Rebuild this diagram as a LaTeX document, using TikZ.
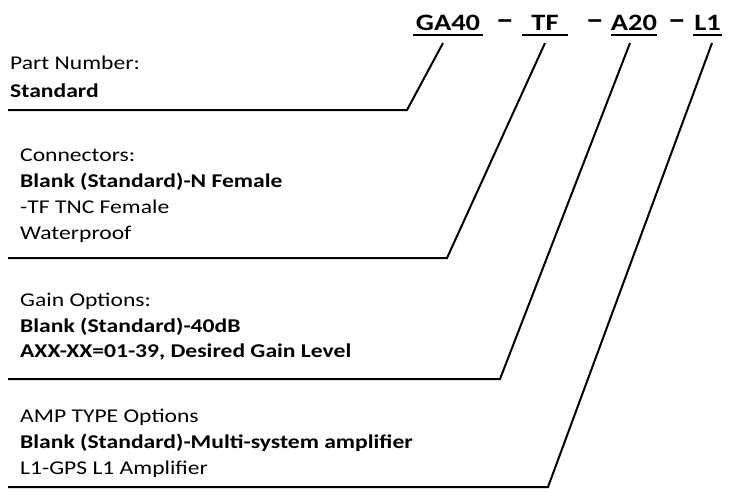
\documentclass[tikz,border=0pt]{standalone}
\usepackage{fontspec}
\setmainfont{Carlito}[FakeStretch=1.21]

\begin{document}
\begin{tikzpicture}[x=1pt,y=-1pt,
  txt/.style={anchor=base west,inner sep=0pt,font=\fontsize{19.5}{22}\selectfont},
  txtb/.style={txt,font=\fontsize{19.5}{22}\selectfont\bfseries},
  code/.style={anchor=base,inner sep=0pt,font=\fontsize{23.5}{26}\selectfont\bfseries},
  codesep/.style={code,font=\fontsize{30}{30}\selectfont\bfseries},
  uline/.style={draw=black,line width=1.8pt},
  lead/.style={draw=black,line width=2pt}]
\useasboundingbox (0,0) rectangle (730,491);
% part number code
\node[code,minimum width=70pt] (ga) at (448,30) {GA40};
\node[codesep] (d1) at (505,29) {--};
\node[code,minimum width=46pt] (tf) at (545,30) {TF};
\node[codesep] (d2) at (595,29) {--};
\node[code,minimum width=42pt] (a20) at (634,30) {A20};
\node[codesep] (d3) at (677,29) {--};
\node[code,minimum width=29pt] (l1) at (707.5,30) {L1};
\foreach \n in {ga,tf,a20,l1}
  \draw[uline] ([yshift=-5pt]\n.base west) -- ([yshift=-5pt]\n.base east);
% option texts
\node[txt] (pn) at (10,69) {Part Number:};
\node[txtb] (pn1) at (10,97) {Standard};
\node[txt] (cn) at (20,161) {Connectors:};
\node[txtb] (cn1) at (20,187) {Blank (Standard)-N Female};
\node[txt] (cn2) at (20,213) {-TF TNC Female};
\node[txt] (cn3) at (20,239) {Waterproof};
\node[txt] (gn) at (20,306) {Gain Options:};
\node[txtb] (gn1) at (20,332) {Blank (Standard)-40dB};
\node[txtb] (gn2) at (20,357) {AXX-XX=01-39, Desired Gain Level};
\node[txt] (am) at (20,422) {AMP TYPE Options};
\node[txtb] (am1) at (20,448) {Blank (Standard)-Multi-system amplifier};
\node[txt] (am2) at (20,474) {L1-GPS L1 Amplifier};
% leader lines
\coordinate (t1) at (443,43); \coordinate (k1) at (407,110); \coordinate (e1) at (8,110);
\coordinate (t2) at (545,43); \coordinate (k2) at (447,258); \coordinate (e2) at (8,258);
\coordinate (t3) at (630,43); \coordinate (k3) at (500,379); \coordinate (e3) at (8,379);
\coordinate (t4) at (712,43); \coordinate (k4) at (548,487); \coordinate (e4) at (8,487);
\foreach \i in {1,...,4}
  \draw[lead] (t\i) -- (k\i) -- (e\i);
\end{tikzpicture}
\end{document}
